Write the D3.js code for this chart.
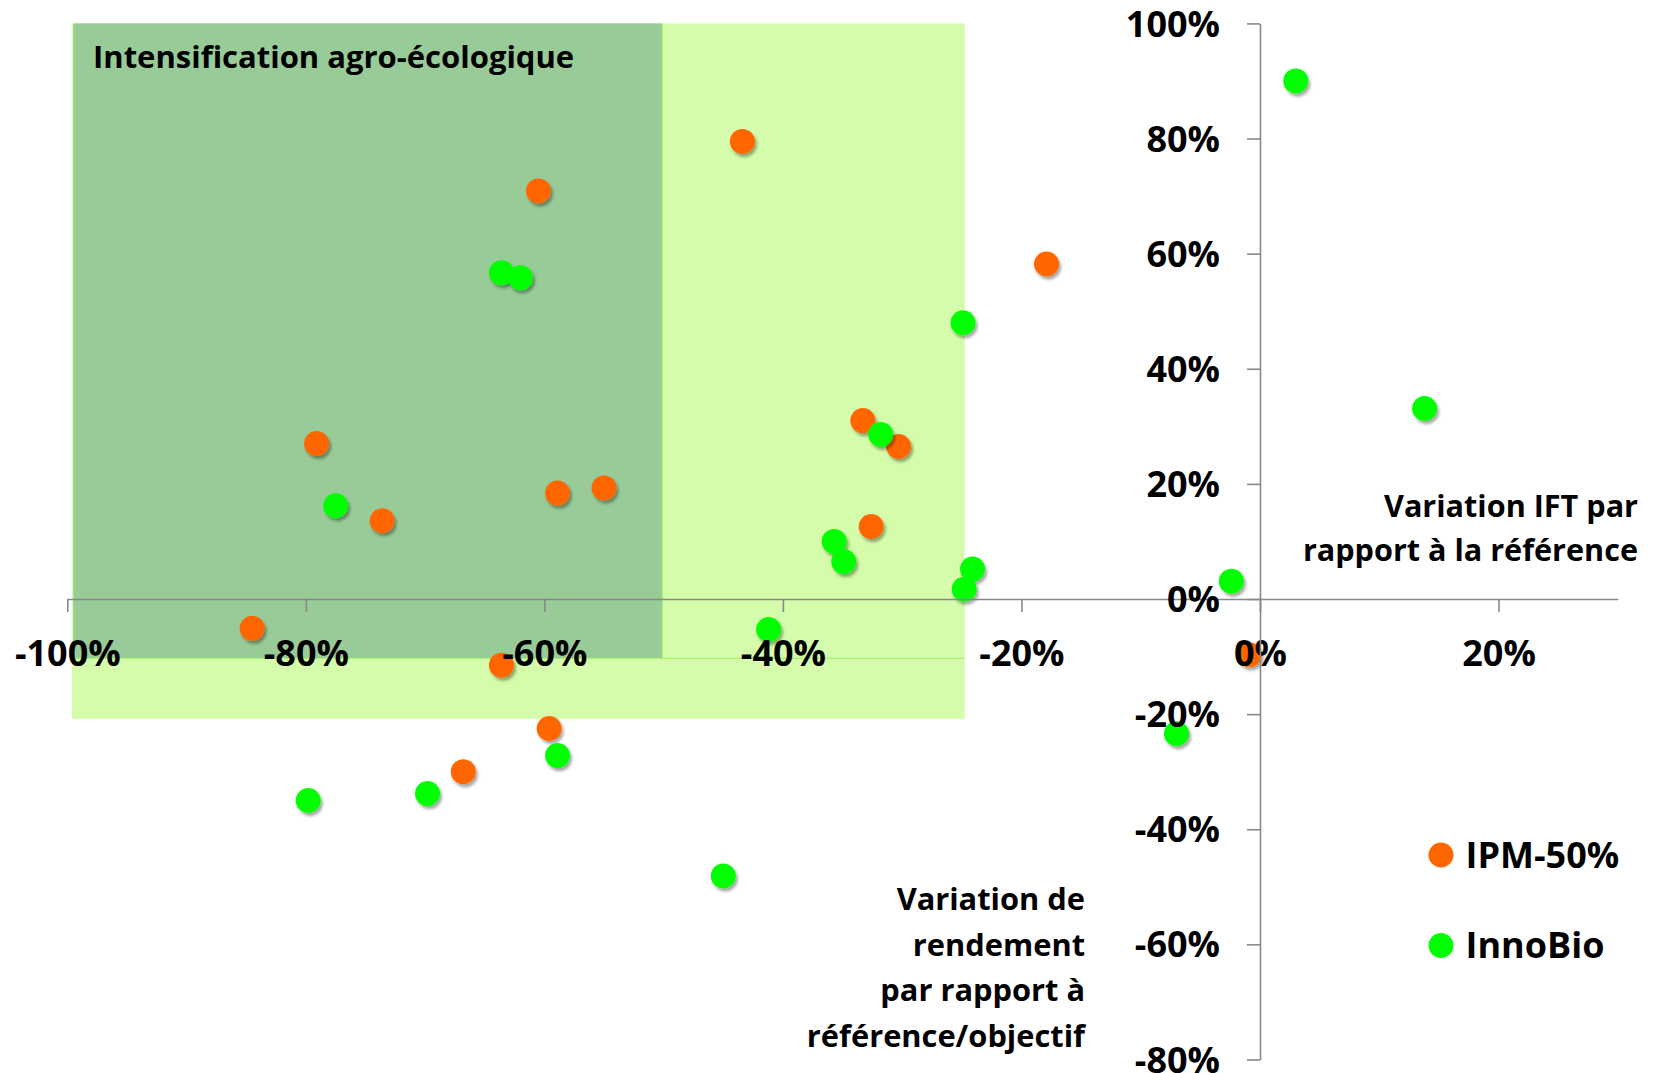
<!DOCTYPE html>
<html>
<head>
<meta charset="utf-8">
<script src="https://cdn.jsdelivr.net/npm/d3@7"></script>
<style>
  html, body { margin: 0; padding: 0; background: #ffffff; }
  svg { display: block; }
  text { font-family: 'Open Sans', 'Noto Sans', sans-serif; font-weight: bold; fill: #000; }
</style>
</head>
<body>
<svg id="chart" width="1656" height="1073"></svg>
<script>
// ---- data ----
const ipmX = [-0.434, -0.605, -0.179, -0.791, -0.333, -0.303, -0.589, -0.550, -0.736, -0.326, -0.845, -0.636, -0.009, -0.596, -0.668];
const ipmY = [0.795, 0.709, 0.582, 0.270, 0.310, 0.265, 0.184, 0.193, 0.136, 0.126, -0.051, -0.115, -0.097, -0.225, -0.300];
const innoX = [0.030, -0.636, -0.620, -0.249, 0.138, -0.318, -0.775, -0.357, -0.349, -0.241, -0.248, -0.024, -0.412, -0.070, -0.589, -0.698, -0.798, -0.450];
const innoY = [0.900, 0.567, 0.558, 0.480, 0.331, 0.286, 0.162, 0.100, 0.065, 0.052, 0.017, 0.031, -0.053, -0.234, -0.272, -0.338, -0.350, -0.481];
const seriesNames = ["IPM-50%", "InnoBio"];
const xTicks = [-1.0, -0.8, -0.6, -0.4, -0.2, 0.0, 0.2];
const xTickLabels = ["-100%", "-80%", "-60%", "-40%", "-20%", "0%", "20%"];
const yTicks = [-0.8, -0.6, -0.4, -0.2, 0.0, 0.2, 0.4, 0.6, 0.8, 1.0];
const yTickLabels = ["-80%", "-60%", "-40%", "-20%", "0%", "20%", "40%", "60%", "80%", "100%"];
const lightZoneX = [-0.996, -0.2476];
const lightZoneY = [1.0, -0.208];
const darkZoneX = [-0.995, -0.501];
const darkZoneY = [1.0, -0.103];
const zoneTitle = "Intensification agro-écologique";
const yAxisTitle = ["Variation IFT par", "rapport à la référence"];
const xAxisTitle = ["Variation de", "rendement", "par rapport à", "référence/objectif"];

// ---- setup ----
const svg = d3.select("#chart");
const colors = ["#ff6600", "#00ff00"];
const x = d3.scaleLinear().domain([-1.0, 0.3]).range([67.3, 1617.8]);
const y = d3.scaleLinear().domain([-0.8, 1.0]).range([1059.5, 23.4]);

const defs = svg.append("defs");
const f = defs.append("filter").attr("id", "shadow").attr("x", "-50%").attr("y", "-50%").attr("width", "200%").attr("height", "200%");
f.append("feDropShadow").attr("dx", 2).attr("dy", 3).attr("stdDeviation", 1.6)
  .attr("flood-color", "#000").attr("flood-opacity", 0.35);

// zones
svg.append("rect")
  .attr("x", x(lightZoneX[0])).attr("y", y(lightZoneY[0]))
  .attr("width", x(lightZoneX[1]) - x(lightZoneX[0]))
  .attr("height", y(lightZoneY[1]) - y(lightZoneY[0]))
  .attr("fill", "#d5fcaa");
svg.append("rect")
  .attr("x", x(darkZoneX[0])).attr("y", y(darkZoneY[0]))
  .attr("width", x(darkZoneX[1]) - x(darkZoneX[0]))
  .attr("height", y(darkZoneY[1]) - y(darkZoneY[0]))
  .attr("fill", "#99cb98");
// separator lines
svg.append("line")
  .attr("x1", x(darkZoneX[0])).attr("x2", x(lightZoneX[1]))
  .attr("y1", y(darkZoneY[1])).attr("y2", y(darkZoneY[1]))
  .attr("stroke", "#a8f070").attr("stroke-width", 1.2);
svg.append("line")
  .attr("x1", x(darkZoneX[1])).attr("x2", x(darkZoneX[1]))
  .attr("y1", y(darkZoneY[0])).attr("y2", y(darkZoneY[1]))
  .attr("stroke", "#a8f070").attr("stroke-width", 1.2);

svg.append("text")
  .attr("x", 93).attr("y", 67.8)
  .attr("font-size", 31)
  .text(zoneTitle);

// axes
const xAxis = d3.axisBottom(x).tickValues(xTicks).tickSize(13).tickSizeOuter(0).tickPadding(28)
  .tickFormat((d, i) => xTickLabels[i]);
const gx = svg.append("g").attr("transform", `translate(0,${y(0)})`).call(xAxis);
const yAxis = d3.axisLeft(y).tickValues(yTicks).tickSize(13).tickSizeOuter(0).tickPadding(27)
  .tickFormat((d, i) => yTickLabels[i]);
const gy = svg.append("g").attr("transform", `translate(${x(0)},0)`).call(yAxis);

[gx, gy].forEach(g => {
  g.select(".domain").attr("stroke", "#888").attr("stroke-width", 1.6);
  g.selectAll(".tick line").attr("stroke", "#888").attr("stroke-width", 1.6);
  g.selectAll(".tick text").attr("font-size", 36).attr("font-family", "'Open Sans', sans-serif")
    .attr("font-weight", "bold").attr("fill", "#000");
});
gy.selectAll(".tick text").attr("dy", "0.35em");

// points
const series = [
  { xs: ipmX, ys: ipmY, color: colors[0] },
  { xs: innoX, ys: innoY, color: colors[1] }
];
const pts = svg.append("g");
series.forEach(s => {
  pts.append("g").selectAll("circle")
    .data(s.xs.map((v, i) => [v, s.ys[i]]))
    .join("circle")
    .attr("cx", d => x(d[0])).attr("cy", d => y(d[1]))
    .attr("r", 12.5)
    .attr("fill", s.color)
    .attr("filter", "url(#shadow)");
});

// raise axis labels above points
gx.raise(); gy.raise();

// axis titles
const t1 = svg.append("text").attr("font-size", 30.6).attr("text-anchor", "end");
yAxisTitle.forEach((l, i) => t1.append("tspan").attr("x", 1638).attr("y", 516.5 + i * 44.5).text(l));
const t2 = svg.append("text").attr("font-size", 30.8).attr("text-anchor", "end");
xAxisTitle.forEach((l, i) => t2.append("tspan").attr("x", 1085).attr("y", 910 + i * 45.5).text(l));

// legend
const lg = svg.append("g");
seriesNames.forEach((name, i) => {
  const cy = 855 + i * 90.5;
  lg.append("circle").attr("cx", 1441).attr("cy", cy).attr("r", 12.5).attr("fill", colors[i]);
  lg.append("text").attr("x", 1465.5).attr("y", cy + 12.8).attr("font-size", 36).text(name);
});
</script>
</body>
</html>
